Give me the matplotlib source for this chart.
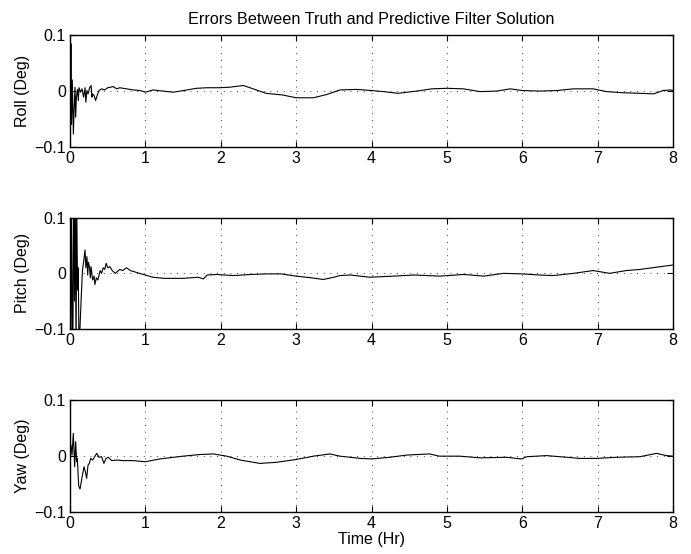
import matplotlib
matplotlib.use("Agg")
import matplotlib.pyplot as plt

plt.rcParams['font.family'] = ['Liberation Sans', 'DejaVu Sans']

# error histories (deg) vs time (hr)
roll_t = [0, 0.005, 0.012, 0.02, 0.03, 0.045, 0.055, 0.066, 0.075, 0.085, 0.1, 0.11, 0.12,
          0.14, 0.16, 0.18, 0.2, 0.21, 0.225, 0.24, 0.26, 0.28, 0.29, 0.3, 0.32, 0.34, 0.36,
          0.385, 0.42, 0.46, 0.5, 0.575, 0.62, 0.66, 0.75, 0.84, 0.93, 1.0, 1.1, 1.23, 1.37,
          1.55, 1.68, 1.82, 1.99, 2.12, 2.3, 2.43, 2.6, 2.82, 3.0, 3.23, 3.41, 3.58, 3.8, 4.0,
          4.16, 4.35, 4.6, 4.8, 5.0, 5.22, 5.44, 5.66, 5.84, 6.0, 6.23, 6.46, 6.68, 6.94, 7.12,
          7.34, 7.56, 7.74, 7.87, 7.96, 8.0]
roll = [0.1, -0.02, 0.085, -0.06, 0.02, -0.077, -0.03, 0.007, -0.047, -0.01, 0.003, -0.017, 0.006,
        -0.002, 0.004, -0.011, 0.006, -0.02, 0.001, -0.005, 0.006, 0.01, -0.011, -0.005, -0.008,
        -0.017, -0.008, 0.001, 0.004, 0.002, 0.006, 0.008, 0.004, 0.006, 0.004, 0.002, 0.001,
        -0.002, 0.002, 0.0, -0.002, 0.002, 0.005, 0.006, 0.006, 0.007, 0.01, 0.004, -0.004,
        -0.007, -0.012, -0.012, -0.006, 0.002, 0.003, 0.001, -0.001, -0.004, 0.0, 0.004, 0.005,
        0.004, -0.001, 0.0, 0.004, 0.001, 0.0, 0.001, 0.004, 0.004, -0.001, -0.003, -0.004,
        -0.005, 0.001, 0.002, 0.001]

pitch_t = [0, 0.01, 0.02, 0.035, 0.05, 0.06, 0.07, 0.08, 0.09, 0.1, 0.11, 0.12, 0.135, 0.15,
           0.165, 0.18, 0.2, 0.21, 0.225, 0.235, 0.245, 0.26, 0.27, 0.28, 0.3, 0.32, 0.33, 0.35,
           0.37, 0.4, 0.42, 0.44, 0.46, 0.48, 0.5, 0.53, 0.56, 0.6, 0.66, 0.7, 0.75, 0.8, 0.85,
           0.92, 1.0, 1.1, 1.25, 1.5, 1.7, 1.77, 1.82, 1.95, 2.05, 2.17, 2.4, 2.61, 2.8, 3.0,
           3.2, 3.36, 3.5, 3.58, 3.72, 3.98, 4.29, 4.56, 4.91, 5.22, 5.49, 5.75, 6.0, 6.23, 6.41,
           6.68, 6.94, 7.16, 7.38, 7.56, 7.78, 8.0]
pitch = [0.15, -0.15, 0.15, -0.2, 0.15, -0.05, 0.2, -0.15, 0.12, -0.03, 0.01, -0.15, -0.089,
         -0.04, 0.005, 0.02, 0.042, 0.01, 0.03, -0.003, 0.02, 0.01, -0.008, 0.012, -0.012, -0.005,
         -0.02, -0.008, -0.012, 0.005, 0.0, 0.01, 0.007, 0.018, 0.01, 0.012, 0.005, 0.0, 0.007,
         0.005, 0.01, 0.005, 0.003, 0.0, -0.003, -0.007, -0.009, -0.009, -0.007, -0.01, -0.003,
         -0.002, -0.003, -0.004, -0.002, -0.001, -0.001, -0.005, -0.008, -0.011, -0.007, -0.004,
         -0.003, -0.007, -0.005, -0.003, -0.005, -0.002, -0.005, 0.0, -0.001, -0.003, -0.004,
         0.0, 0.005, 0.0, 0.005, 0.007, 0.011, 0.015]

yaw_t = [0, 0.013, 0.027, 0.044, 0.062, 0.075, 0.088, 0.097, 0.115, 0.133, 0.16, 0.186, 0.204,
         0.221, 0.239, 0.257, 0.274, 0.3, 0.323, 0.354, 0.385, 0.42, 0.45, 0.478, 0.509, 0.553,
         0.619, 0.708, 0.84, 1.0, 1.19, 1.5, 1.73, 1.9, 2.08, 2.26, 2.52, 2.74, 3.0, 3.23, 3.45,
         3.58, 3.85, 4.0, 4.24, 4.47, 4.77, 4.9, 5.17, 5.44, 5.79, 5.99, 6.06, 6.32, 6.59, 6.76,
         6.98, 7.25, 7.56, 7.78, 7.91, 8.0]
yaw = [0.002, 0.02, 0.002, 0.041, -0.019, 0.026, -0.01, -0.004, -0.053, -0.059, -0.038, -0.019,
       -0.028, -0.04, -0.016, -0.013, -0.004, -0.007, -0.002, 0.005, -0.002, -0.001, -0.013,
       -0.004, -0.002, -0.008, -0.007, -0.008, -0.008, -0.01, -0.005, 0.0, 0.003, 0.004, 0.0,
       -0.007, -0.013, -0.011, -0.006, 0.0, 0.004, 0.0, -0.004, -0.005, -0.002, 0.002, 0.004,
       0.0, 0.0, -0.003, -0.002, -0.005, -0.001, 0.001, -0.002, -0.004, -0.004, -0.002, -0.001,
       0.005, 0.001, 0.0]

labels = ["Roll (Deg)", "Pitch (Deg)", "Yaw (Deg)"]
bottoms = [0.735, 0.406, 0.076]
fs = 11.5

fig = plt.figure(figsize=(6.91, 5.54), dpi=100)
axes = []
for i, (t, v) in enumerate([(roll_t, roll), (pitch_t, pitch), (yaw_t, yaw)]):
    ax = fig.add_axes([0.1013, bottoms[i], 0.8727, 0.2012])
    ax.plot(t, v, color="black", linewidth=0.8)
    ax.set_xlim(0, 8)
    ax.set_ylim(-0.1, 0.1)
    ax.set_xticks(range(0, 9))
    ax.set_yticks([-0.1, 0, 0.1])
    ax.set_yticklabels(["\u22120.1", "0", "0.1"])
    ax.grid(True, linestyle=(0, (1, 7)), color="black", linewidth=0.6)
    ax.tick_params(direction="in", top=True, right=True, length=4, labelsize=fs, pad=3)
    ax.set_ylabel(labels[i], fontsize=fs, labelpad=3)
    for s in ax.spines.values():
        s.set_linewidth(1.0)
    axes.append(ax)

axes[0].set_title("Errors Between Truth and Predictive Filter Solution", fontsize=11.7, pad=8)
axes[2].set_xlabel("Time (Hr)", fontsize=fs, labelpad=1)

plt.savefig("out.png", dpi=100)
